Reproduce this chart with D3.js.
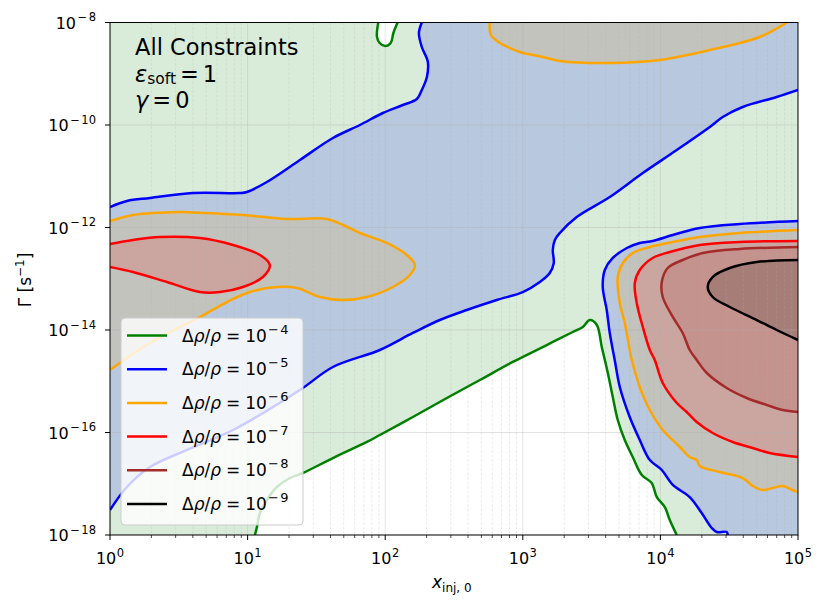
<!DOCTYPE html>
<html><head><meta charset="utf-8">
<script src="https://cdn.jsdelivr.net/npm/d3@7"></script>
<style>body{margin:0;background:#fff} svg{display:block} text{font-family:"DejaVu Sans",sans-serif;fill:#000}</style>
</head><body><svg id="c" width="830" height="611"></svg>
<script>
// ---- data (log10 x_inj,0 , log10 Γ) ----
const xTickExps = [0, 1, 2, 3, 4, 5];
const yTickExps = [-18, -16, -14, -12, -10, -8];
const levelExps = [-4, -5, -6, -7, -8, -9];
const levelColors = ["green", "blue", "orange", "red", "brown", "black"];

const greenLoop = [[1.95,-8.0],[1.94,-8.28],[1.96,-8.40],[2.00,-8.46],[2.04,-8.40],[2.06,-8.20],[2.09,-8.0]];
const greenMain = [[1.053,-18.0],[1.068,-17.844],[1.090,-17.571],[1.140,-17.317],[1.213,-17.063],[1.308,-16.888],
  [1.402,-16.790],[1.620,-16.498],[1.867,-16.185],[1.961,-16.049],[2.201,-15.698],[2.448,-15.327],[2.688,-14.976],
  [2.927,-14.624],[3.174,-14.293],[3.363,-14.039],[3.436,-13.941],[3.487,-13.805],[3.538,-13.902],[3.574,-14.332],
  [3.618,-14.839],[3.654,-15.307],[3.690,-15.756],[3.741,-16.146],[3.799,-16.478],[3.865,-16.829],[3.937,-16.985],
  [3.974,-17.259],[4.032,-17.454],[4.068,-17.707],[4.119,-18.0]];
const blueUpper = [[0,-11.600],[0.123,-11.483],[0.291,-11.424],[0.603,-11.327],[0.944,-11.327],[0.995,-11.307],
  [1.140,-11.112],[1.380,-10.683],[1.620,-10.254],[1.816,-10.000],[1.983,-9.766],[2.128,-9.610],[2.230,-9.493],
  [2.266,-9.317],[2.303,-9.063],[2.310,-8.771],[2.266,-8.478],[2.245,-8.205],[2.266,-8.0]];
const blueLower = [[0,-17.512],[0.123,-17.063],[0.291,-16.673],[0.559,-16.341],[0.894,-15.951],[1.380,-15.171],
  [1.620,-14.722],[1.961,-14.390],[2.201,-14.058],[2.397,-13.805],[2.593,-13.610],[2.811,-13.415],[3.000,-13.259],
  [3.124,-13.063],[3.196,-12.888],[3.225,-12.693],[3.218,-12.439],[3.233,-12.244],[3.269,-12.107],[3.392,-11.795],
  [3.632,-11.405],[3.872,-10.937],[4.119,-10.488],[4.359,-10.039],[4.453,-9.844],[4.598,-9.649],[4.845,-9.454],[5.0,-9.317]];
const blueRight = [[5.0,-11.873],[4.576,-11.932],[4.286,-12.010],[4.090,-12.146],[3.944,-12.263],[3.850,-12.302],
  [3.756,-12.400],[3.654,-12.595],[3.596,-12.829],[3.581,-13.161],[3.610,-13.610],[3.632,-14.058],[3.668,-14.585],
  [3.705,-15.112],[3.777,-15.698],[3.850,-16.146],[3.923,-16.537],[4.010,-16.732],[4.090,-17.024],[4.213,-17.259],
  [4.300,-17.571],[4.373,-17.863],[4.409,-17.941],[4.482,-17.941],[4.489,-18.0]];
const orangeTop = [[2.760,-8.0],[2.768,-8.244],[2.833,-8.400],[2.906,-8.498],[2.978,-8.576],[3.145,-8.673],
  [3.269,-8.751],[3.632,-8.790],[3.995,-8.732],[4.359,-8.537],[4.722,-8.283],[4.918,-8.0]];
const orangeLeft = [[0,-11.873],[0.167,-11.756],[0.508,-11.698],[0.654,-11.711],[0.966,-11.756],[1.286,-11.834],
  [1.576,-11.834],[1.693,-11.951],[1.816,-12.107],[2.012,-12.302],[2.157,-12.537],[2.216,-12.732],[2.179,-12.927],
  [2.056,-13.161],[1.867,-13.356],[1.693,-13.415],[1.526,-13.356],[1.358,-13.181],[1.213,-13.161],[1.017,-13.259],
  [0.850,-13.454],[0.654,-13.746],[0.291,-14.254],[0,-14.780]];
const orangeRight = [[5.0,-12.049],[4.576,-12.107],[4.286,-12.185],[4.090,-12.283],[3.923,-12.380],[3.799,-12.498],
  [3.727,-12.693],[3.690,-12.966],[3.705,-13.473],[3.741,-13.863],[3.777,-14.390],[3.792,-14.585],[3.850,-15.112],
  [3.923,-15.561],[4.017,-15.951],[4.141,-16.283],[4.213,-16.478],[4.264,-16.537],[4.286,-16.654],[4.431,-16.771],
  [4.598,-16.888],[4.671,-17.044],[4.744,-17.122],[4.816,-17.083],[4.889,-17.044],[4.961,-17.122],[5.0,-17.161]];
const redLeft = [[0,-12.322],[0.167,-12.244],[0.363,-12.185],[0.654,-12.205],[0.894,-12.341],[1.090,-12.537],
  [1.162,-12.732],[1.111,-12.966],[0.966,-13.161],[0.799,-13.259],[0.654,-13.259],[0.414,-13.063],[0.167,-12.868],[0,-12.771]];
const redRight = [[5.0,-12.263],[4.576,-12.283],[4.286,-12.341],[4.068,-12.478],[3.944,-12.595],[3.850,-12.829],
  [3.814,-13.083],[3.828,-13.473],[3.872,-13.941],[3.923,-14.390],[3.959,-14.585],[4.017,-15.034],[4.119,-15.424],
  [4.191,-15.600],[4.264,-15.795],[4.380,-16.010],[4.526,-16.185],[4.671,-16.302],[4.794,-16.400],[5.0,-16.478]];
const brownRight = [[5.0,-12.380],[4.576,-12.420],[4.308,-12.498],[4.162,-12.634],[4.053,-12.790],[4.010,-13.063],
  [4.017,-13.356],[4.090,-13.746],[4.162,-14.058],[4.213,-14.390],[4.264,-14.585],[4.337,-14.839],[4.482,-15.132],
  [4.627,-15.327],[4.773,-15.463],[4.889,-15.561],[5.0,-15.600]];
const blackRight = [[5.0,-12.634],[4.700,-12.673],[4.504,-12.790],[4.380,-12.966],[4.344,-13.161],[4.380,-13.356],
  [4.504,-13.551],[4.700,-13.805],[4.845,-14.000],[5.0,-14.195]];

// ---- layout ----
const L = 110, R = 798, T = 22.5, B = 535;
const svg = d3.select("#c");
const x = d3.scaleLog().domain([1, 1e5]).range([L, R]);
const y = d3.scaleLog().domain([1e-18, 1e-8]).range([B, T]);
const P = pts => pts.map(p => [x(10 ** p[0]), y(10 ** p[1])]);
const line = d3.line().curve(d3.curveCatmullRom.alpha(0.5));
const seg = pts => line(P(pts));
const cont = pts => "L" + seg(pts).slice(1);
const corner = (lx, ly) => "L" + x(10 ** lx) + "," + y(10 ** ly);

svg.append("defs").append("clipPath").attr("id", "clip")
  .append("rect").attr("x", L).attr("y", T).attr("width", R - L).attr("height", B - T);
const g = svg.append("g").attr("clip-path", "url(#clip)");
const A = 0.15;

// green region (everything inside the 1e-4 contour)
g.append("rect").attr("x", L).attr("y", T).attr("width", R - L).attr("height", B - T)
  .attr("fill", "green").attr("fill-opacity", A);
g.append("path").attr("d", seg(greenMain) + "Z").attr("fill", "#fff");
g.append("path").attr("d", seg(greenLoop) + "Z").attr("fill", "#fff");
// blue
g.append("path").attr("d", seg(blueUpper) + corner(5, -8) + cont(blueLower.slice().reverse()) + "Z")
  .attr("fill", "blue").attr("fill-opacity", A);
g.append("path").attr("d", seg(blueRight) + corner(5, -18) + "Z").attr("fill", "blue").attr("fill-opacity", A);
// orange, red, brown, black
[orangeTop, orangeLeft, orangeRight].forEach(c =>
  g.append("path").attr("d", seg(c) + "Z").attr("fill", "orange").attr("fill-opacity", A));
[redLeft, redRight].forEach(c =>
  g.append("path").attr("d", seg(c) + "Z").attr("fill", "red").attr("fill-opacity", A));
g.append("path").attr("d", seg(brownRight) + "Z").attr("fill", "brown").attr("fill-opacity", A);
g.append("path").attr("d", seg(blackRight) + "Z").attr("fill", "black").attr("fill-opacity", A);

// grid
const gridCol = "#b0b0b0";
xTickExps.slice(0, -1).forEach(e => {
  for (let k = 2; k <= 9; k++) {
    const xv = x(k * 10 ** e);
    g.append("line").attr("x1", xv).attr("x2", xv).attr("y1", T).attr("y2", B)
      .attr("stroke", gridCol).attr("stroke-opacity", 0.3).attr("stroke-width", 0.8).attr("stroke-dasharray", "3,1.5");
  }
});
xTickExps.forEach(e => {
  const xv = x(10 ** e);
  g.append("line").attr("x1", xv).attr("x2", xv).attr("y1", T).attr("y2", B)
    .attr("stroke", gridCol).attr("stroke-opacity", 0.35).attr("stroke-width", 1);
});
yTickExps.forEach(e => {
  const yv = y(10 ** e);
  g.append("line").attr("x1", L).attr("x2", R).attr("y1", yv).attr("y2", yv)
    .attr("stroke", gridCol).attr("stroke-opacity", 0.35).attr("stroke-width", 1);
});

// contour lines
const lw = 2.5;
const drawLine = (pts, col) => g.append("path").attr("d", seg(pts)).attr("fill", "none")
  .attr("stroke", col).attr("stroke-width", lw).attr("stroke-linejoin", "round");
drawLine(greenLoop, "green"); drawLine(greenMain, "green");
drawLine(blueUpper, "blue"); drawLine(blueLower, "blue"); drawLine(blueRight, "blue");
drawLine(orangeTop, "orange"); drawLine(orangeLeft, "orange"); drawLine(orangeRight, "orange");
drawLine(redLeft, "red"); drawLine(redRight, "red");
drawLine(brownRight, "brown"); drawLine(blackRight, "black");

// frame
svg.append("rect").attr("x", L).attr("y", T).attr("width", R - L).attr("height", B - T)
  .attr("fill", "none").attr("stroke", "#000").attr("stroke-width", 1);

// superscript helper: matplotlib-like minus spacing
function sup(t, e, size, dy, gap) {
  if (e < 0) {
    t.append("tspan").attr("dy", dy).attr("dx", gap).attr("font-size", size).text("\u2212");
    t.append("tspan").attr("dx", gap).attr("font-size", size).text(Math.abs(e));
  } else {
    t.append("tspan").attr("dy", dy).attr("dx", 0.5).attr("font-size", size).text(e);
  }
}

// x ticks
const fs = 16, ss = 11.5;
xTickExps.forEach(e => {
  const xv = x(10 ** e);
  svg.append("line").attr("x1", xv).attr("x2", xv).attr("y1", B).attr("y2", B + 5).attr("stroke", "#000");
  const t = svg.append("text").attr("x", xv).attr("y", B + 29).attr("text-anchor", "middle").attr("font-size", fs);
  t.append("tspan").text("10");
  sup(t, e, ss, -7.5, 1.5);
  if (e < 5) for (let k = 2; k <= 9; k++) {
    const xm = x(k * 10 ** e);
    svg.append("line").attr("x1", xm).attr("x2", xm).attr("y1", B).attr("y2", B + 3).attr("stroke", "#000").attr("stroke-width", 0.7);
  }
});
// y ticks
yTickExps.forEach(e => {
  const yv = y(10 ** e);
  svg.append("line").attr("x1", L - 5).attr("x2", L).attr("y1", yv).attr("y2", yv).attr("stroke", "#000");
  const t = svg.append("text").attr("x", L - 14).attr("y", yv + 6).attr("text-anchor", "end").attr("font-size", fs);
  t.append("tspan").text("10");
  sup(t, e, ss, -7.5, 1.5);
});

// axis labels
const xl = svg.append("text").attr("x", 432).attr("y", 588).attr("font-size", fs + 1);
xl.append("tspan").attr("font-style", "italic").text("x");
xl.append("tspan").attr("dy", 4).attr("font-size", 12).text("inj, 0");
const yl = svg.append("text").attr("transform", "translate(31,280) rotate(-90)").attr("text-anchor", "middle").attr("font-size", fs + 1);
yl.append("tspan").text("\u0393 [s");
yl.append("tspan").attr("dy", -7).attr("font-size", 12).text("\u22121");
yl.append("tspan").attr("dy", 7).text("]");

// annotation
const af = 22.5;
svg.append("text").attr("x", 135).attr("y", 55).attr("font-size", af).text("All Constraints");
const e1 = svg.append("text").attr("x", 135).attr("y", 81.5).attr("font-size", af);
e1.append("tspan").attr("font-style", "italic").text("\u03b5");
e1.append("tspan").attr("dy", 2.5).attr("font-size", 15.5).text("soft");
e1.append("tspan").attr("dy", -2.5).attr("dx", 4).text("=");
e1.append("tspan").attr("dx", 4).text("1");
const e2 = svg.append("text").attr("x", 135).attr("y", 107.5).attr("font-size", af);
e2.append("tspan").attr("font-style", "italic").text("\u03b3");
e2.append("tspan").attr("dx", 4).text("=");
e2.append("tspan").attr("dx", 4).text("0");

// legend
const lg = svg.append("g");
lg.append("rect").attr("x", 121).attr("y", 318).attr("width", 182).attr("height", 207).attr("rx", 4)
  .attr("fill", "#fff").attr("fill-opacity", 0.8).attr("stroke", "#cccccc").attr("stroke-width", 1);
levelExps.forEach((e, i) => {
  const cy = 335.5 + i * 33.7;
  lg.append("line").attr("x1", 127).attr("x2", 167).attr("y1", cy).attr("y2", cy)
    .attr("stroke", levelColors[i]).attr("stroke-width", lw);
  const t = lg.append("text").attr("x", 182).attr("y", cy + 6).attr("font-size", 17);
  t.append("tspan").text("\u0394");
  t.append("tspan").attr("font-style", "italic").text("\u03c1");
  t.append("tspan").text("/");
  t.append("tspan").attr("font-style", "italic").text("\u03c1");
  t.append("tspan").attr("dx", 5).text("=");
  t.append("tspan").attr("dx", 5).text("10");
  sup(t, e, 13, -8, 1.2);
});
</script></body></html>
